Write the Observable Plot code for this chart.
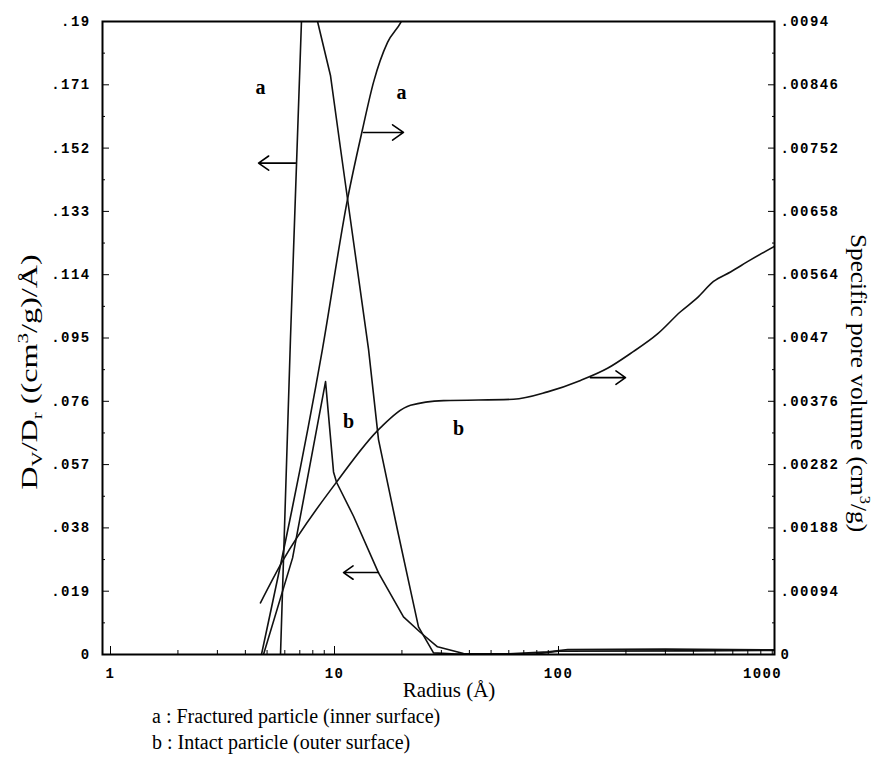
<!DOCTYPE html>
<html><head><meta charset="utf-8">
<script src="https://cdn.jsdelivr.net/npm/d3@7"></script>
<script src="https://cdn.jsdelivr.net/npm/@observablehq/plot@0.6"></script>
<style>
body{margin:0;background:#fff;}
#chart{width:890px;}
svg g[aria-label$="tick label"]{letter-spacing:1.4px;}
.legend{font-family:"Liberation Serif","DejaVu Serif",serif;font-size:20px;margin-left:152px;line-height:26px;color:#000;margin-top:-3px;}
</style></head><body>
<div id="chart"></div>
<div class="legend"><div>a : Fractured particle (inner surface)</div><div>b : Intact particle (outer surface)</div></div>
<script>
// ---- data (radius in Å) ----
// a : fractured particle, Dv/Dr (left axis)
const aDensityR = [5.74, 6.36, 7.12, 7.7, 8.40, 9.60, 10.64, 11.43, 14.19, 15.72, 19.11, 21.84, 23.71, 27.67, 35, 80, 100, 400, 921];
const aDensityV = [0, 0.0949, 0.19, 0.205, 0.19, 0.1737, 0.1518, 0.1368, 0.0916, 0.0645, 0.0373, 0.0193, 0.0083, 0.0005, 0.0001, 0.0002, 0.0010, 0.0011, 0.0012];
// b : intact particle, Dv/Dr (left axis)
const bDensityR = [4.82, 6.5, 9.12, 9.90, 10.21, 12.16, 15.72, 20.32, 24.21, 28.83, 37.67, 60, 90, 110, 300, 921];
const bDensityV = [0, 0.0290, 0.0819, 0.0548, 0.0517, 0.0415, 0.0245, 0.0113, 0.0066, 0.0023, 0.0003, 0.0002, 0.0008, 0.0015, 0.0016, 0.0014];
// a : fractured particle, specific pore volume (right axis)
const aVolumeR = [4.72, 8.84, 11.43, 13.34, 14.94, 17.25, 19.71, 23];
const aVolumeV = [0, 0.00454, 0.00676, 0.00780, 0.00850, 0.00909, 0.00938, 0.0099];
// b : intact particle, specific pore volume (right axis)
const bVolumeR = [4.67, 5.86, 10.21, 16.05, 21.84, 30.66, 62.97, 89.33, 125.4, 165.5, 209.6, 276.7, 350.4, 417.4, 492, 586.1, 719.7, 930.8];
const bVolumeV = [0.000766, 0.001386, 0.00256, 0.00337, 0.00370, 0.00377, 0.00379, 0.00390, 0.00407, 0.00425, 0.00447, 0.00476, 0.00509, 0.00530, 0.00554, 0.00568, 0.00586, 0.00607];

// axes
const leftMax = 0.19, rightMax = 0.0094;
const leftTicks = [0, 0.019, 0.038, 0.057, 0.076, 0.095, 0.114, 0.133, 0.152, 0.171, 0.19];
const leftTickLabels = ["0", ".019", ".038", ".057", ".076", ".095", ".114", ".133", ".152", ".171", ".19"];
const rightTickLabels = ["0", ".00094", ".00188", ".00282", ".00376", ".0047", ".00564", ".00658", ".00752", ".00846", ".0094"];
const xMajor = [1, 10, 100];
const xMajorLabels = ["1", "10", "100"];
const xEndTick = [1000];
const xEndLabel = ["1000"];

// annotations
const labelText = ["a", "a", "b", "b"];
const labelR = [4.67, 19.9, 11.55, 35.8];
const labelV = [0.1701, 0.1686, 0.0698, 0.0678];
const arrowR1 = [6.70, 13.47, 15.72, 138.9];
const arrowR2 = [4.58, 20.32, 10.97, 199.1];
const arrowV = [0.1475, 0.1567, 0.0246, 0.0831];

// ---- build ----
const k = leftMax / rightMax;
const rows = (rs, vs, s = 1) => rs.map((r, i) => ({r, v: vs[i] * s}));
const leftMinor = leftTicks.slice(0, -1).map(t => t + 0.0095);
const xMinor = [];
for (const d of [1, 10, 100]) for (let m = 2; m <= 9; m++) if (d * m < 921) xMinor.push(d * m);
const labels = labelText.map((t, i) => ({t, r: labelR[i], v: labelV[i]}));
const arrows = arrowR1.map((r1, i) => ({r1, r2: arrowR2[i], v: arrowV[i]}));
const mono = "Liberation Mono, DejaVu Sans Mono, monospace";
const serif = "Liberation Serif, DejaVu Serif, serif";
const lineOpts = {x: "r", y: "v", stroke: "#111", strokeWidth: 1.6, clip: true};

const chart = Plot.plot({
  width: 890, height: 706,
  marginLeft: 102, marginRight: 116, marginTop: 21, marginBottom: 52,
  style: {background: "#fff", color: "#000", fontFamily: mono, fontSize: "14px", fontWeight: "bold"},
  x: {type: "log", domain: [0.921, 921]},
  y: {domain: [0, leftMax]},
  marks: [
    Plot.line(rows(aDensityR, aDensityV), lineOpts),
    Plot.line(rows(bDensityR, bDensityV), lineOpts),
    Plot.line(rows(aVolumeR, aVolumeV, k), {...lineOpts, curve: "monotone-x"}),
    Plot.line(rows(bVolumeR, bVolumeV, k), {...lineOpts, curve: "monotone-x"}),
    Plot.text(labels, {x: "r", y: "v", text: "t", fontFamily: serif, fontSize: 20, fontWeight: "bold"}),
    Plot.arrow(arrows, {x1: "r1", x2: "r2", y1: "v", y2: "v", stroke: "#000", strokeWidth: 1.6, headLength: 13, headAngle: 70}),
    Plot.frame({stroke: "#000", strokeWidth: 2}),
    Plot.axisY({anchor: "left", ticks: leftTicks, tickSize: -7, tickPadding: 19, tickFormat: d => leftTickLabels[leftTicks.indexOf(d)], label: null}),
    Plot.axisY({anchor: "left", ticks: leftMinor, tickSize: -3, tickFormat: () => "", label: null}),
    Plot.axisY({anchor: "right", ticks: leftTicks, tickSize: -7, tickPadding: 13, tickFormat: d => rightTickLabels[leftTicks.indexOf(d)], label: null}),
    Plot.axisY({anchor: "right", ticks: leftMinor, tickSize: -3, tickFormat: () => "", label: null}),
    Plot.axisX({ticks: xMinor, tickSize: -4, tickFormat: () => "", label: null}),
    Plot.axisX({ticks: xMajor, tickSize: -8, tickPadding: 22, tickFormat: d => xMajorLabels[xMajor.indexOf(d)], label: null}),
    Plot.axisX({ticks: xEndTick, tickSize: 0, tickPadding: 14, dx: -20, tickFormat: d => xEndLabel[xEndTick.indexOf(d)], label: null})
  ]
});
document.getElementById("chart").appendChild(chart);

// axis titles
const svg = d3.select(chart);
const lt = svg.append("text")
  .attr("transform", "translate(37,372) rotate(-90) scale(1.4,1)")
  .attr("text-anchor", "middle")
  .style("font-family", serif).style("font-size", "23px").style("font-weight", "normal")
  .style("letter-spacing", "0");
lt.append("tspan").text("D");
lt.append("tspan").attr("dy", 5).style("font-size", "15px").text("V");
lt.append("tspan").attr("dy", -5).text("/D");
lt.append("tspan").attr("dy", 5).style("font-size", "15px").text("r");
lt.append("tspan").attr("dy", -5).text(" ((cm");
lt.append("tspan").attr("dy", -9).style("font-size", "15px").text("3");
lt.append("tspan").attr("dy", 9).text("/g)/Å)");

const rt = svg.append("text")
  .attr("transform", "translate(851,383) rotate(90) scale(1.1,1)")
  .attr("text-anchor", "middle")
  .style("font-family", serif).style("font-size", "23px").style("font-weight", "normal");
rt.append("tspan").text("Specific pore volume (cm");
rt.append("tspan").attr("dy", -9).style("font-size", "15px").text("3");
rt.append("tspan").attr("dy", 9).text("/g)");

svg.append("text")
  .attr("x", 449).attr("y", 697)
  .attr("text-anchor", "middle")
  .style("font-family", serif).style("font-size", "21px").style("font-weight", "normal")
  .text("Radius (Å)");
</script>
</body></html>
